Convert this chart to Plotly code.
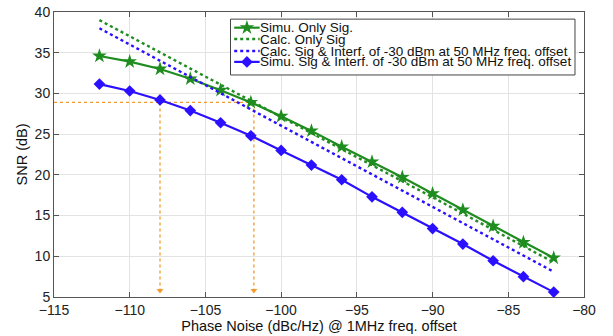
import plotly.graph_objects as go

# ---- data ----
phase_noise = [-112, -110, -108, -106, -104, -102, -100, -98, -96, -94, -92, -90, -88, -86, -84, -82]
simu_only_sig = [34.6, 33.9, 33.0, 31.8, 30.4, 28.9, 27.2, 25.4, 23.45, 21.6, 19.7, 17.7, 15.7, 13.7, 11.7, 9.8]
calc_only_sig = [39.0, 37.0, 35.0, 33.0, 31.05, 29.1, 27.1, 25.15, 23.2, 21.2, 19.2, 17.25, 15.25, 13.25, 11.25, 9.25]
calc_sig_interf = [38.0, 36.0, 34.0, 32.0, 30.0, 28.0, 26.0, 24.05, 22.05, 20.1, 18.1, 16.1, 14.1, 12.1, 10.1, 8.1]
simu_sig_interf = [31.15, 30.3, 29.2, 27.9, 26.4, 24.8, 23.0, 21.2, 19.4, 17.3, 15.4, 13.4, 11.5, 9.45, 7.5, 5.6]

names = ["Simu. Only Sig.", "Calc. Only Sig",
         "Calc. Sig & Interf. of -30 dBm at 50 MHz freq. offset",
         "Simu. Sig & Interf. of -30 dBm at 50 MHz freq. offset"]

snr_threshold = 28.9
cross_x = [-108, -101.8]
arrow_tip = 5.8
x_range = [-115, -80]
y_range = [5, 40]

GREEN = "#1f8c1f"
BLUE = "#2a10ff"
ORANGE = "#f29a2e"
FONT = "Liberation Sans, Arial, Helvetica, sans-serif"

fig = go.Figure()

# orange guide lines
fig.add_trace(go.Scatter(x=[x_range[0], cross_x[1]], y=[snr_threshold, snr_threshold], mode="lines",
                         line=dict(color=ORANGE, width=1.3, dash="dot"), showlegend=False, hoverinfo="skip"))
for cx in cross_x:
    fig.add_trace(go.Scatter(x=[cx, cx], y=[snr_threshold, arrow_tip], mode="lines",
                             line=dict(color=ORANGE, width=1.3, dash="dot"), showlegend=False, hoverinfo="skip"))
fig.add_trace(go.Scatter(x=cross_x, y=[arrow_tip, arrow_tip], mode="markers",
                         marker=dict(symbol="triangle-down", size=6, color=ORANGE),
                         showlegend=False, hoverinfo="skip"))

styles = [
    dict(mode="lines+markers", line=dict(color=GREEN, width=2.2), marker=dict(symbol="star", size=11, color=GREEN)),
    dict(mode="lines", line=dict(color=GREEN, width=2.4, dash="dot")),
    dict(mode="lines", line=dict(color=BLUE, width=2.4, dash="dot")),
    dict(mode="lines+markers", line=dict(color=BLUE, width=2.2), marker=dict(symbol="diamond", size=9, color=BLUE)),
]
series = [simu_only_sig, calc_only_sig, calc_sig_interf, simu_sig_interf]
for name, ys, st in zip(names, series, styles):
    fig.add_trace(go.Scatter(x=phase_noise, y=ys, name=name, showlegend=False, **st))

# ---- custom legend on an overlay axis (0..1 of plot area) ----
lg_left, lg_right, lg_top, lg_bottom = 0.333, 0.983, 0.975, 0.779
row_y = [0.945, 0.905, 0.863, 0.825]
sample_x = [0.340, 0.388]
fig.add_trace(go.Scatter(x=[lg_left, lg_right, lg_right, lg_left, lg_left],
                         y=[lg_bottom, lg_bottom, lg_top, lg_top, lg_bottom],
                         xaxis="x2", yaxis="y2", mode="lines", fill="toself", fillcolor="white",
                         line=dict(color="#444", width=1), showlegend=False, hoverinfo="skip"))
for name, ry, st in zip(names, row_y, styles):
    fig.add_trace(go.Scatter(x=sample_x, y=[ry, ry], xaxis="x2", yaxis="y2", mode="lines",
                             line=st["line"], showlegend=False, hoverinfo="skip"))
    if "marker" in st:
        fig.add_trace(go.Scatter(x=[sum(sample_x) / 2], y=[ry], xaxis="x2", yaxis="y2", mode="markers",
                                 marker=st["marker"], showlegend=False, hoverinfo="skip"))
    fig.add_annotation(x=sample_x[1] - 0.002, y=ry, xref="x domain", yref="y domain", text=name, showarrow=False,
                       xanchor="left", yanchor="middle", borderpad=0,
                       font=dict(family=FONT, size=13.5, color="#111"))

axis_common = dict(showline=True, linecolor="#555", linewidth=1, mirror="ticks", ticks="inside",
                   ticklen=5, tickcolor="#555", showgrid=True, gridcolor="#e3e3e3", gridwidth=1,
                   zeroline=False, automargin=False, tickfont=dict(family=FONT, size=14, color="#222"))

fig.update_layout(
    width=613, height=336,
    margin=dict(l=54, r=29, t=12, b=39),
    paper_bgcolor="white", plot_bgcolor="white",
    showlegend=False,
    xaxis=dict(range=x_range, dtick=5, title=dict(text="Phase Noise (dBc/Hz) @ 1MHz freq. offset",
               font=dict(family=FONT, size=14.5, color="#111"), standoff=1), **axis_common),
    yaxis=dict(range=y_range, dtick=5, title=dict(text="SNR (dB)", font=dict(family=FONT, size=14.5, color="#111"),
               standoff=3), **axis_common),
    xaxis2=dict(overlaying="x", range=[0, 1], visible=False),
    yaxis2=dict(overlaying="y", range=[0, 1], visible=False),
)

fig.write_html("out.html")
